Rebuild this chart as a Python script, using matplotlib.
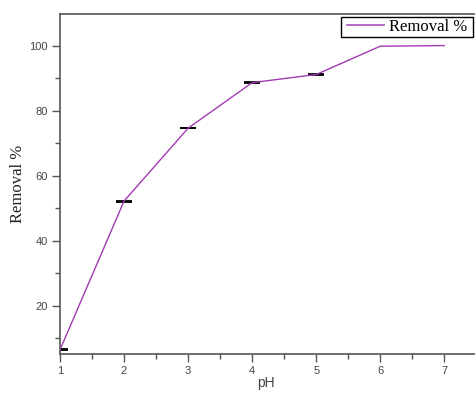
import matplotlib.pyplot as plt
from matplotlib.patches import Rectangle
from matplotlib.ticker import MultipleLocator

ph = [1, 2, 3, 4, 5, 6, 7]
removal = [6.5, 52.2, 74.6, 88.6, 91.1, 99.8, 100.0]
errors = [0.1, 0.15, 0.05, 0.15, 0.05, 0.0, 0.0]

W, H = 475, 394
fig = plt.figure(figsize=(W / 100, H / 100), dpi=100)
ax = fig.add_axes([60 / W, 40 / H, 415 / W, 340 / H])

line_color = '#a13ab2'
ax.plot(ph, removal, color=line_color, lw=1.0, label='Removal %', zorder=3)

# error caps only where a spread was measured
ex = [p for p, e in zip(ph, errors) if e > 0]
ey = [r for r, e in zip(removal, errors) if e > 0]
ee = [e for e in errors if e > 0]
ax.errorbar(ex, ey, yerr=ee, fmt='none', ecolor='black',
            elinewidth=0.8, capsize=6, capthick=1.3, zorder=2)

ax.set_xlim(1, 7.48)
ax.set_ylim(5.2, 109.7)
ax.xaxis.set_major_locator(MultipleLocator(1))
ax.xaxis.set_minor_locator(MultipleLocator(0.5))
ax.yaxis.set_minor_locator(MultipleLocator(10))
ax.set_yticks([20, 40, 60, 80, 100])

spine_color = '#555555'
for s in ('left', 'bottom', 'top'):
    ax.spines[s].set_color(spine_color)
    ax.spines[s].set_linewidth(1.2)
ax.spines['right'].set_visible(False)

ax.tick_params(which='major', direction='out', length=6, width=1.0,
               color=spine_color, labelsize=8, labelcolor='#444444', pad=3)
ax.tick_params(which='minor', direction='out', length=3.5, width=1.0,
               color=spine_color)
ax.tick_params(top=False)
for lab in ax.get_xticklabels() + ax.get_yticklabels():
    lab.set_family('Liberation Sans')

ax.set_xlabel('pH', family='Liberation Sans', fontsize=10, color='#444444')
ax.set_ylabel('Removal %', family='Liberation Serif', fontsize=12,
              color='#222222')
ax.xaxis.set_label_coords((266 - 60) / 415, -0.085)
ax.xaxis.label.set_verticalalignment('center')
ax.yaxis.set_label_coords(-0.101, 0.5)
ax.yaxis.label.set_verticalalignment('center')

# legend entries without their own frame; a box is drawn around them
leg = fig.legend(loc='upper right', bbox_to_anchor=(469 / W, 1 - 17 / H),
                 prop={'family': 'Liberation Serif', 'size': 12},
                 frameon=False, borderaxespad=0.0,
                 handlelength=2.2, borderpad=0.12, handletextpad=0.3)
leg.get_lines()[0].set_color('#b060c0')
leg.get_lines()[0].set_linewidth(1.3)
fig.patches.append(Rectangle((341 / W, 1 - 37 / H), 132 / W, 20 / H,
                             transform=fig.transFigure, fill=True,
                             facecolor='white', edgecolor='black',
                             linewidth=1.0, zorder=4))
leg.set_zorder(5)

fig.savefig('out.png', dpi=100)
